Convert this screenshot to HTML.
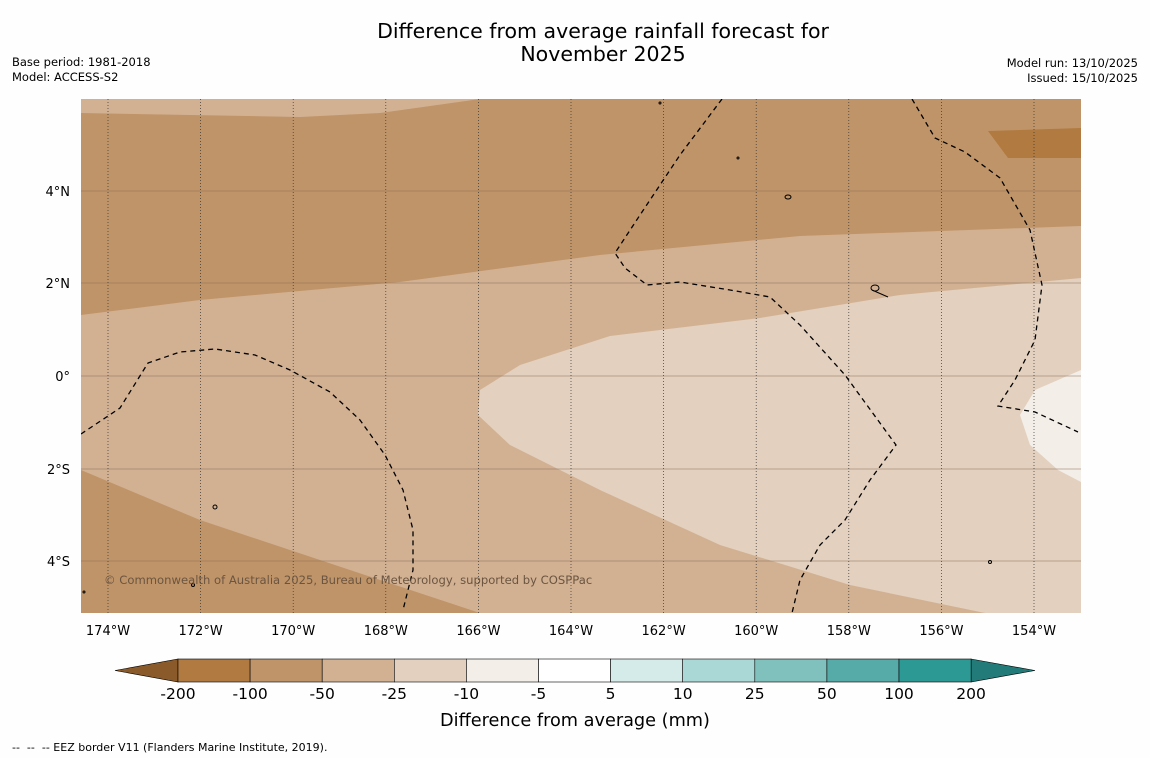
<!DOCTYPE html>
<html><head><meta charset="utf-8"><style>
body{margin:0;background:#fff;width:1150px;height:758px;overflow:hidden;font-family:"DejaVu Sans",sans-serif}
</style></head><body>
<svg width="1150" height="758" viewBox="0 0 1150 758" xmlns="http://www.w3.org/2000/svg" font-family="DejaVu Sans, sans-serif">
<rect width="1150" height="758" fill="#fefefe"/>
<text x="603" y="38" font-size="20.5" text-anchor="middle">Difference from average rainfall forecast for</text>
<text x="603" y="61" font-size="20.5" text-anchor="middle">November 2025</text>
<text x="12" y="66" font-size="11.5">Base period: 1981-2018</text>
<text x="12" y="81" font-size="11.5">Model: ACCESS-S2</text>
<text x="1138" y="67" font-size="11.5" text-anchor="end">Model run: 13/10/2025</text>
<text x="1138" y="82" font-size="11.5" text-anchor="end">Issued: 15/10/2025</text>
<g>
<clipPath id="mc"><rect x="81" y="99" width="1000" height="514"/></clipPath>
<g clip-path="url(#mc)">
<rect x="81" y="99" width="1000" height="514" fill="#d2b193"/>
<polygon fill="#c09469" points="81,113 300,117 380,113 480,99 1081,99 1081,226 800,236 600,255 400,282 200,300 81,315"/>
<polygon fill="#b07a40" points="988,131 1081,128 1081,158 1008,158"/>
<polygon fill="#c09469" points="81,470 200,520 350,570 480,613 81,613"/>
<polygon fill="#e3d0be" points="1081,278 900,295 760,318 610,336 520,365 480,390 478,415 510,445 600,490 720,545 850,585 985,613 1081,613"/>
<polygon fill="#f4eee8" points="1081,370 1035,390 1020,415 1030,445 1058,470 1081,482"/>
<g stroke="#8a7058" stroke-width="0.6">
<line x1="81" y1="191" x2="1081" y2="191"/><line x1="81" y1="283" x2="1081" y2="283"/><line x1="81" y1="376" x2="1081" y2="376"/><line x1="81" y1="469" x2="1081" y2="469"/><line x1="81" y1="561" x2="1081" y2="561"/>
</g>
<g stroke="#333" stroke-width="0.7" stroke-dasharray="1,2" id="vg"></g>
<g fill="none" stroke="#000" stroke-width="1.3" stroke-dasharray="5,4">
<polyline points="722,99 680,155 640,215 615,253 625,268 647,285 680,282 730,290 770,297 800,325 845,375 896,445 870,480 845,520 820,545 800,580 792,613"/>
<polyline points="912,99 935,138 965,152 1000,178 1030,230 1042,285 1035,340 1015,380 998,406 1035,412 1078,432"/>
<polyline points="81,434 120,408 148,363 180,352 215,349 255,355 290,370 330,392 360,420 385,455 403,490 413,530 413,570 403,610"/>
</g>
<g fill="none" stroke="#000" stroke-width="1">
<ellipse cx="788" cy="197" rx="3" ry="2"/><ellipse cx="875" cy="288" rx="4" ry="3"/><path d="M872,290 L888,297"/><ellipse cx="215" cy="507" rx="2" ry="2"/><circle cx="193" cy="585" r="1.5"/><circle cx="738" cy="158" r="1"/><circle cx="660" cy="103" r="1"/><circle cx="990" cy="562" r="1.5"/><circle cx="84" cy="592" r="1"/>
</g>
</g>
<text x="104" y="584" font-size="11.6" fill="#6b5540">© Commonwealth of Australia 2025, Bureau of Meteorology, supported by COSPPac</text>
</g>
<g font-size="13" fill="#000" id="ax">
<text x="70" y="196" text-anchor="end">4°N</text><text x="70" y="288" text-anchor="end">2°N</text><text x="70" y="381" text-anchor="end">0°</text><text x="70" y="474" text-anchor="end">2°S</text><text x="70" y="566" text-anchor="end">4°S</text>
</g>
<g id="cb"></g>
<text x="575" y="726" font-size="17.7" text-anchor="middle">Difference from average (mm)</text>
<text x="12" y="751" font-size="11" xml:space="preserve" style="white-space:pre">--  --  -- EEZ border V11 (Flanders Marine Institute, 2019).</text>
</svg>
<script>
const lonTicks=[174,172,170,168,166,164,162,160,158,156,154];
const cbLabels=["-200","-100","-50","-25","-10","-5","5","10","25","50","100","200"];
const cbColors=["#b07a40","#c09469","#d2b193","#e3d0be","#f4eee8","#ffffff","#d5ebea","#aad8d6","#80c1bd","#56aaa8","#2d9994"];
const NS="http://www.w3.org/2000/svg";
const xLon=w=>108+(174-w)*46.3;
const vg=document.getElementById('vg'),ax=document.getElementById('ax'),cb=document.getElementById('cb');
lonTicks.forEach(w=>{
 const l=document.createElementNS(NS,'line');
 l.setAttribute('x1',xLon(w));l.setAttribute('x2',xLon(w));l.setAttribute('y1',99);l.setAttribute('y2',613);
 
 
 vg.appendChild(l);
 const t=document.createElementNS(NS,'text');
 t.setAttribute('x',xLon(w));t.setAttribute('y',635);t.setAttribute('text-anchor','middle');t.textContent=w+'°W';
 
 
 ax.appendChild(t);
});
const cx=i=>178+i*72.1;
const lt=document.createElementNS(NS,'polygon');
lt.setAttribute('points',`115,670.5 ${cx(0)},659 ${cx(0)},682`);lt.setAttribute('fill','#8a5a2b');lt.setAttribute('stroke','#000');lt.setAttribute('stroke-width','0.6');


cb.appendChild(lt);
const rt=document.createElementNS(NS,'polygon');
rt.setAttribute('points',`${cx(11)},659 1035,670.5 ${cx(11)},682`);rt.setAttribute('fill','#237b79');rt.setAttribute('stroke','#000');rt.setAttribute('stroke-width','0.6');


cb.appendChild(rt);
cbColors.forEach((c,i)=>{
 const r=document.createElementNS(NS,'rect');
 r.setAttribute('x',cx(i));r.setAttribute('y',659);r.setAttribute('width',72.1);r.setAttribute('height',23);
 r.setAttribute('fill',c);r.setAttribute('stroke','#000');r.setAttribute('stroke-width','0.6');
 
 
 cb.appendChild(r);
});
cbLabels.forEach((s,i)=>{
 const t=document.createElementNS(NS,'text');
 t.setAttribute('x',cx(i));t.setAttribute('y',699);t.setAttribute('text-anchor','middle');t.setAttribute('font-size','15.5');t.textContent=s;
 
 
 cb.appendChild(t);
});
</script>
</body></html>
